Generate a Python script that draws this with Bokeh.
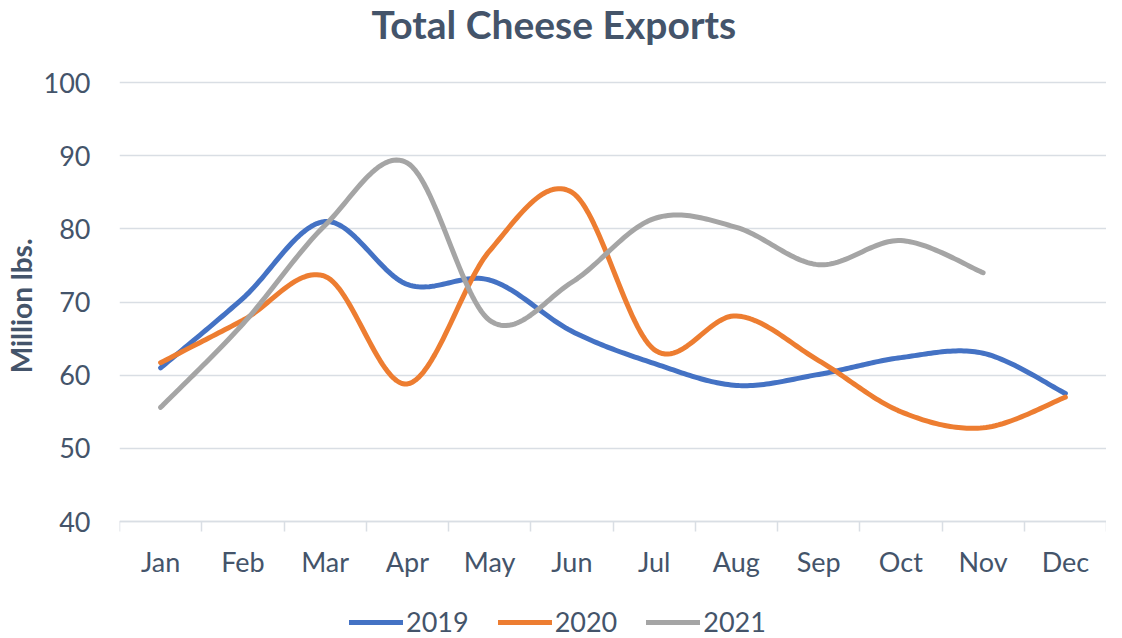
import numpy as np
from bokeh.plotting import figure
from bokeh.models import FixedTicker, Legend, LegendItem, Range1d, Label
from bokeh.embed import file_html
from bokeh.resources import INLINE

months = ["Jan", "Feb", "Mar", "Apr", "May", "Jun", "Jul", "Aug", "Sep", "Oct", "Nov", "Dec"]
y2019 = [61.0, 70.5, 81.0, 72.4, 73.0, 66.0, 61.6, 58.6, 60.1, 62.4, 63.0, 57.5]
y2020 = [61.7, 67.5, 73.5, 58.8, 77.0, 85.0, 63.5, 68.1, 62.0, 55.0, 52.8, 57.0]
y2021 = [55.6, 67.0, 80.5, 89.0, 67.5, 72.7, 81.4, 80.2, 75.1, 78.4, 74.0]
series_names = ["2019", "2020", "2021"]
colors = ["#4472C4", "#ED7D31", "#A5A5A5"]
y_ticks = [40, 50, 60, 70, 80, 90, 100]

TXT = "#44546A"
FONT = "Lato"
GRID = "#D9DEE4"

H = 638
TOP_PX, BOT_PX = 82, 521          # pixel rows of 100 and 40
K = (BOT_PX - TOP_PX) / (y_ticks[-1] - y_ticks[0])
Y1 = y_ticks[-1] + TOP_PX / K
Y0 = y_ticks[0] - (H - BOT_PX) / K


def smooth(vals, n=30):
    """Catmull-Rom (Excel-style) smoothing of the series through its points."""
    pts = np.array([[i, v] for i, v in enumerate(vals)], dtype=float)
    xs, ys = [], []
    m = len(pts)
    for i in range(m - 1):
        p0 = pts[i - 1] if i > 0 else pts[i]
        p1 = pts[i]
        p2 = pts[i + 1]
        p3 = pts[i + 2] if i + 2 < m else pts[i + 1]
        c1 = p1 + (p2 - p0) / 6.0
        c2 = p2 - (p3 - p1) / 6.0
        t = np.linspace(0, 1, n, endpoint=(i == m - 2))
        b = ((1 - t) ** 3)[:, None] * p1 + (3 * (1 - t) ** 2 * t)[:, None] * c1 \
            + (3 * (1 - t) * t ** 2)[:, None] * c2 + (t ** 3)[:, None] * p2
        xs.extend(b[:, 0]); ys.extend(b[:, 1])
    return xs, ys


p = figure(width=1106, height=H, output_backend="svg", toolbar_location=None,
           x_range=Range1d(-0.5, 11.5), y_range=Range1d(Y0, Y1),
           min_border_left=114, min_border_right=0, min_border_top=0, min_border_bottom=0)
p.outline_line_color = None
p.background_fill_color = "white"
p.border_fill_color = "white"

renderers = []
for vals, c in zip([y2019, y2020, y2021], colors):
    xs, ys = smooth(vals)
    r = p.line(xs, ys, line_color=c, line_width=5, line_cap="round", line_join="round")
    renderers.append(r)

# x axis, pinned at the bottom of the value range
xa = p.below[0]
xa.fixed_location = y_ticks[0]
xa.ticker = FixedTicker(ticks=list(range(12)), minor_ticks=[i - 0.5 for i in range(13)])
xa.major_label_overrides = {i: m for i, m in enumerate(months)}
xa.major_tick_out = 0
xa.major_tick_in = 0
xa.minor_tick_out = 10
xa.minor_tick_in = 0
xa.minor_tick_line_color = GRID
xa.minor_tick_line_width = 1.5
xa.axis_line_color = GRID
xa.axis_line_width = 1.5
xa.major_label_text_font = FONT
xa.major_label_text_font_size = "27px"
xa.major_label_text_color = TXT
xa.major_label_standoff = 13
p.xgrid.grid_line_color = None

# y axis
ya = p.left[0]
ya.ticker = FixedTicker(ticks=y_ticks)
ya.axis_line_color = None
ya.major_tick_line_color = None
ya.minor_tick_line_color = None
ya.major_label_text_font = FONT
ya.major_label_text_font_size = "27px"
ya.major_label_text_color = TXT
ya.major_label_standoff = 23
ya.axis_label = "\u00a0" * 4 + "Million lbs."
ya.axis_label_text_font = FONT
ya.axis_label_text_font_size = "28px"
ya.axis_label_text_font_style = "bold"
ya.axis_label_text_color = TXT
ya.axis_label_standoff = 3
p.ygrid.grid_line_color = GRID
p.ygrid.grid_line_width = 1.5

title = Label(x=4.78, y=Y1 - 0.05, text="Total Cheese Exports", text_font=FONT,
              text_font_size="39px", text_font_style="bold", text_color=TXT,
              text_align="center", text_baseline="top")
p.add_layout(title)

legend = Legend(items=[LegendItem(label=n, renderers=[r]) for n, r in zip(series_names, renderers)],
                orientation="horizontal", location=(230, 0),
                label_text_font=FONT, label_text_font_size="27px", label_text_color=TXT,
                glyph_width=54, glyph_height=20, label_standoff=3, spacing=29,
                padding=0, margin=0, border_line_color=None, background_fill_alpha=0)
p.add_layout(legend, "center")

open("out.html", "w").write(file_html(p, INLINE))
